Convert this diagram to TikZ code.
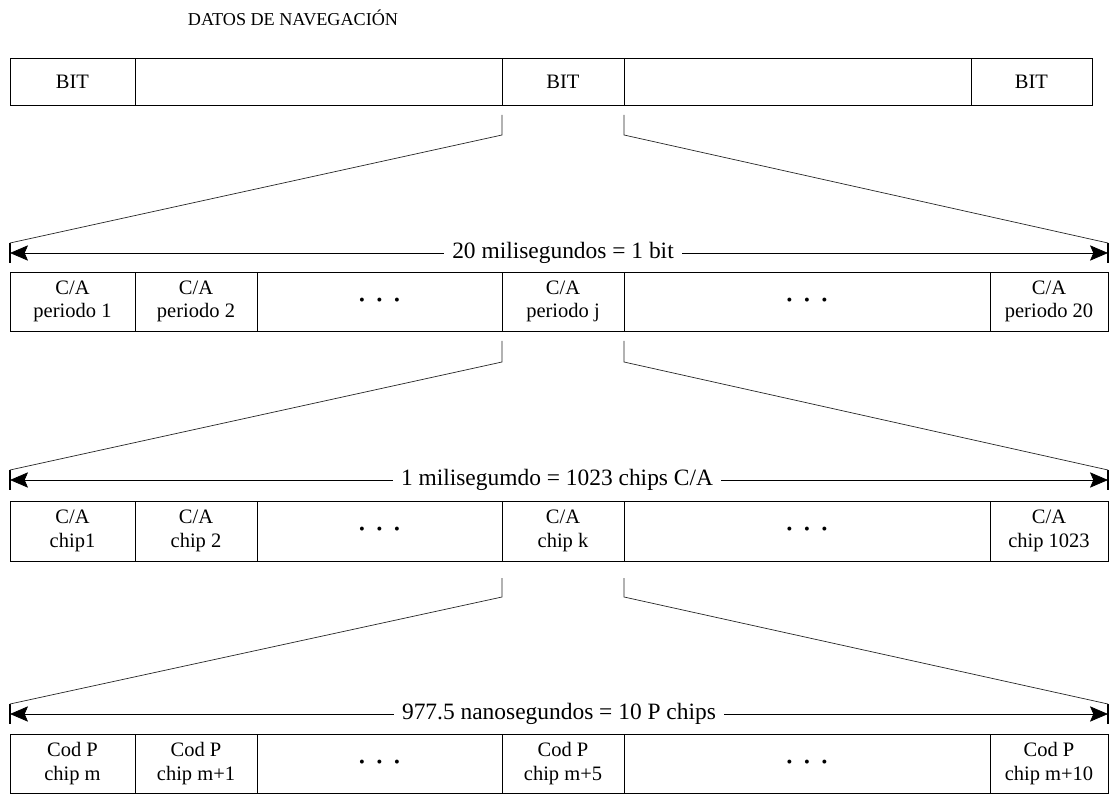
\documentclass[tikz,border=0pt]{standalone}
\usepackage{fontspec}
\setmainfont{Liberation Serif}
\usetikzlibrary{arrows.meta,calc}

% celda: nombre, x izq, x der, y sup, y inf, texto
\newcommand{\celda}[6]{\node[celda, minimum width={(#3-#2)*0.03cm}, minimum height={(#5-#4)*0.03cm}] (#1) at ({(#2+#3)/2},{(#4+#5)/2}) {#6};}
\newcommand{\puntos}{{\fontsize{14}{14}\selectfont\textbullet\hspace{10pt}\textbullet\hspace{10pt}\textbullet}}

\begin{document}
\begin{tikzpicture}[x=0.03cm, y=-0.03cm,
  celda/.style={draw, line width=0.75pt, inner sep=0pt, outer sep=0pt, align=center, font=\fontsize{17.5}{20}\selectfont},
  cota/.style={arrows={-Stealth[length=5.4mm, width=4.6mm, inset=1mm]}, line width=0.6pt},
  tope/.style={line width=1.5pt},
  enlace/.style={line width=0.6pt, black!85},
  rotulo/.style={fill=white, inner xsep=7pt, inner ysep=1pt, font=\fontsize{20}{22}\selectfont}]
\useasboundingbox (0,0) rectangle (1112,794);

\node[font=\fontsize{15.5}{19}\selectfont] (titulo) at (293,18) {DATOS DE NAVEGACIÓN};

% Bits de navegacion
\celda{a1}{10}{135}{58}{105}{BIT}
\celda{a2}{135}{502}{58}{105}{}
\celda{a3}{502}{624}{58}{105}{BIT}
\celda{a4}{624}{971}{58}{105}{}
\celda{a5}{971}{1092}{58}{105}{BIT}

% Periodos C/A
\celda{b1}{10}{135}{272}{331}{C/A\\periodo 1}
\celda{b2}{135}{257}{272}{331}{C/A\\periodo 2}
\celda{b3}{257}{502}{272}{331}{\puntos}
\celda{b4}{502}{624}{272}{331}{C/A\\periodo j}
\celda{b5}{624}{990}{272}{331}{\puntos}
\celda{b6}{990}{1108}{272}{331}{C/A\\periodo 20}

% Chips C/A
\celda{c1}{10}{135}{501}{561}{C/A\\chip1}
\celda{c2}{135}{257}{501}{561}{C/A\\chip 2}
\celda{c3}{257}{502}{501}{561}{\puntos}
\celda{c4}{502}{624}{501}{561}{C/A\\chip k}
\celda{c5}{624}{990}{501}{561}{\puntos}
\celda{c6}{990}{1108}{501}{561}{C/A\\chip 1023}

% Chips P
\celda{d1}{10}{135}{734}{793}{Cod P\\chip m}
\celda{d2}{135}{257}{734}{793}{Cod P\\chip m+1}
\celda{d3}{257}{502}{734}{793}{\puntos}
\celda{d4}{502}{624}{734}{793}{Cod P\\chip m+5}
\celda{d5}{624}{990}{734}{793}{\puntos}
\celda{d6}{990}{1108}{734}{793}{Cod P\\chip m+10}

% Cotas
\foreach \n/\y in {2/253, 3/480, 4/714} {
  \coordinate (i\n) at (10,\y);
  \coordinate (d\n) at (1108,\y);
  \coordinate (is\n) at (10,\y-10);
  \coordinate (ii\n) at (10,\y+10);
  \coordinate (ds\n) at (1108,\y-10);
  \coordinate (di\n) at (1108,\y+10);
  \draw[tope] (is\n) -- (ii\n);
  \draw[tope] (ds\n) -- (di\n);
}
\node[rotulo] (m2) at (563,253) {20 milisegundos = 1 bit};
\node[rotulo] (m3) at (557,480) {1 milisegumdo = 1023 chips C/A};
\node[rotulo] (m4) at (559,714) {977.5 nanosegundos = 10 P chips};
\foreach \n in {2,3,4} {
  \draw[cota] (m\n) -- (i\n);
  \draw[cota] (m\n) -- (d\n);
}

% Ampliaciones
\draw[enlace] ($(a3.south west)+(0,10)$) -- ++(0,20) -- (is2);
\draw[enlace] ($(a3.south east)+(0,10)$) -- ++(0,20) -- (ds2);
\draw[enlace] ($(b4.south west)+(0,10)$) -- ++(0,21) -- (is3);
\draw[enlace] ($(b4.south east)+(0,10)$) -- ++(0,21) -- (ds3);
\draw[enlace] ($(c4.south west)+(0,17)$) -- ++(0,19) -- (is4);
\draw[enlace] ($(c4.south east)+(0,17)$) -- ++(0,19) -- (ds4);
\end{tikzpicture}
\end{document}
